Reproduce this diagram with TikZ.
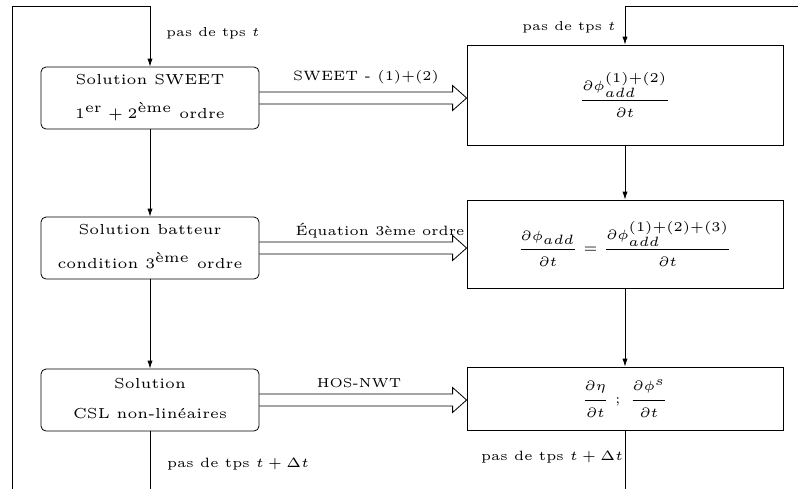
\documentclass[tikz,border=0pt]{standalone}
\usepackage{amsmath}
\usepackage{amssymb}
\usetikzlibrary{arrows.meta,positioning}

\newcommand{\petit}[2][1.35]{\scalebox{#1}{\fontsize{5}{6}\selectfont\begin{tabular}{@{}c@{}}#2\end{tabular}}}

\tikzset{
  etape/.style={draw, rounded corners=2.5pt, minimum width=109pt, minimum height=31pt, inner sep=0pt},
  bilan/.style={draw, minimum width=158pt, inner sep=0pt},
  lbl/.style={inner sep=0pt},
  flux/.style={to path={
    ([yshift=3pt]\tikztostart) -- ([xshift=-7pt,yshift=3pt]\tikztotarget)
    -- ([xshift=-7pt,yshift=6.25pt]\tikztotarget) -- (\tikztotarget)
    -- ([xshift=-7pt,yshift=-6.25pt]\tikztotarget) -- ([xshift=-7pt,yshift=-3pt]\tikztotarget)
    -- ([yshift=-3pt]\tikztostart) \tikztonodes}},
}

\begin{document}
\begin{tikzpicture}[x=0.5pt,y=-0.5pt,>={Latex[length=4pt,width=2.6pt]}]
\useasboundingbox (0,0) rectangle (798,488);
\clip (0,0) rectangle (798,488);
% colonne de gauche
\node[etape] (s1) at (150,98) {\petit[1.45]{Solution SWEET\\[4.2pt] $1^{\text{er}}+2^{\text{ème}}$ ordre}};
\node[etape] (s2) at (150,248) {\petit[1.45]{Solution batteur\\[4.4pt] condition $3^{\text{ème}}$ ordre}};
\node[etape] (s3) at (150,400) {\petit[1.45]{Solution\\[4.4pt] CSL non-linéaires}};
% colonne de droite
\node[bilan, minimum height=50pt] (r1) at (625,95) {\petit{$\displaystyle\frac{\partial\phi_{add}^{(1)+(2)}}{\partial t}$}};
\node[bilan, minimum height=44pt] (r2) at (625,244) {\petit{$\displaystyle\frac{\partial\phi_{add}}{\partial t}=\frac{\partial\phi_{add}^{(1)+(2)+(3)}}{\partial t}$}};
\node[bilan, minimum height=31.5pt] (r3) at (625,398.5) {\petit{$\displaystyle\frac{\partial\eta}{\partial t}\;;\;\frac{\partial\phi^{s}}{\partial t}$}};
% fleches verticales
\draw[->] (s1) -- (s2);
\draw[->] (s2) -- (s3);
\draw[->] (r1) -- (r2);
\draw[->] (r2) -- (r3);
% boucles en temps
\coordinate (retourg) at (12,500);
\coordinate (coing) at (12,6);
\coordinate (retourd) at (810,6);
\coordinate (fing) at (150,500);
\coordinate (find) at (625,500);
\draw[->] (retourg) -- (coing) -| (s1.north);
\draw[->] (retourd) -| (r1.north);
\draw (s3) -- (fing);
\draw (r3) -- (find);
% transferts
\coordinate (p1) at (s1.east -| r1.west);
\coordinate (p2) at (s2.east -| r2.west);
\coordinate (p3) at (s3.east -| r3.west);
\draw[flux] (s1.east) to (p1);
\draw[flux] (s2.east) to (p2);
\draw[flux] (s3.east) to (p3);
\node[lbl] (f1) at (366,77) {\petit{SWEET - (1)+(2)}};
\node[lbl] (f2) at (380,232) {\petit{Équation 3ème ordre}};
\node[lbl] (f3) at (359,384) {\petit[1.3]{HOS-NWT}};
% pas de temps
\node[lbl] (t1) at (213,33) {\petit[1.3]{pas de tps $t$}};
\node[lbl] (t2) at (569,27.5) {\petit[1.3]{pas de tps $t$}};
\node[lbl] (t3) at (238,464) {\petit{pas de tps $t+\Delta t$}};
\node[lbl] (t4) at (552,457) {\petit{pas de tps $t+\Delta t$}};
\end{tikzpicture}
\end{document}
